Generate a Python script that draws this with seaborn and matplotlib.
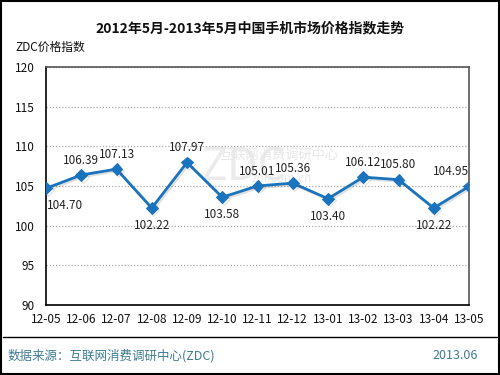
import numpy as np
import pandas as pd
import seaborn as sns
import matplotlib.pyplot as plt
import matplotlib.patheffects as pe
from matplotlib.lines import Line2D

# Datos
months = ['12-05', '12-06', '12-07', '12-08', '12-09', '12-10', '12-11',
          '12-12', '13-01', '13-02', '13-03', '13-04', '13-05']
index_values = [104.70, 106.39, 107.13, 102.22, 107.97, 103.58, 105.01,
                105.36, 103.40, 106.12, 105.80, 102.22, 104.95]
label_below = [True, False, False, True, False, True, False,
               False, True, False, False, True, False]

df = pd.DataFrame({'月份': months, '指数': index_values})
df['pos'] = range(len(df))

sns.set_style('white')
plt.rcParams['font.family'] = ['Noto Sans CJK SC', 'DejaVu Sans']

fig = plt.figure(figsize=(5, 3.75), dpi=100)
ax = fig.add_axes([0.092, 0.187, 0.846, 0.634])

# Marca de agua
ax.text(5.6, 107.3, 'ZDC', fontsize=32, color='#ebebeb', ha='center', va='center', zorder=0)
ax.text(6.6, 108.9, '互联网消费调研中心', fontsize=9.5, color='#e8e8e8', ha='center', va='center', zorder=0)
ax.text(6.7, 105.9, 'zol.com.cn', fontsize=8.5, color='#e8e8e8', ha='center', va='center', zorder=0)

line_color = '#1a73bd'
sns.lineplot(data=df, x='pos', y='指数', ax=ax, color=line_color, linewidth=2,
             marker='D', markersize=6, markeredgecolor=line_color, zorder=3,
             path_effects=[pe.SimpleLineShadow(offset=(1.2, -1.2), alpha=0.12), pe.Normal()])

# Etiquetas de valores
last = len(index_values) - 1
for i, (v, below) in enumerate(zip(index_values, label_below)):
    ha = 'left' if i == 0 else ('right' if i == last else 'center')
    dx = 1 if i == 0 else 0
    if below:
        ax.annotate(f'{v:.2f}', (i, v), xytext=(dx, -8), textcoords='offset points',
                    ha=ha, va='top', fontsize=8.5, color='#222222', zorder=4)
    else:
        ax.annotate(f'{v:.2f}', (i, v), xytext=(dx, 6), textcoords='offset points',
                    ha=ha, va='bottom', fontsize=8.5, color='#222222', zorder=4)

ax.set_xlim(0, len(months) - 1)
ax.set_ylim(90, 120)
ax.set_yticks(np.arange(90, 121, 5))
ax.set_xticks(df['pos'])
ax.set_xticklabels(months)
ax.set_xlabel('')
ax.set_ylabel('')
ax.yaxis.grid(True, linestyle=(0, (1, 1.5)), color='#aaaaaa', linewidth=0.9)
ax.xaxis.grid(False)
ax.tick_params(axis='x', direction='in', length=4, width=0.8, labelsize=8.5, pad=6, colors='#111111')
ax.tick_params(axis='y', direction='in', length=4, width=0.8, labelsize=8.5, pad=8, colors='#111111')
for s in ['left', 'bottom']:
    ax.spines[s].set_color('black')
    ax.spines[s].set_linewidth(1.2)
for s in ['top', 'right']:
    ax.spines[s].set_color('#555555')
    ax.spines[s].set_linewidth(1.2)

# Textos
fig.text(0.5, 0.925, '2012年5月-2013年5月中国手机市场价格指数走势', ha='center', va='center',
         fontsize=10, fontweight='bold', color='#111111')
fig.text(0.03, 0.875, 'ZDC价格指数', ha='left', va='center', fontsize=8.5, color='#111111')

footer_color = '#3f7c92'
fig.add_artist(Line2D([0.006, 0.994], [1 - 337 / 375] * 2, color='black', linewidth=1))
fig.text(0.016, 0.052, '数据来源：互联网消费调研中心(ZDC)', ha='left', va='center',
         fontsize=9, color=footer_color)
fig.text(0.955, 0.052, '2013.06', ha='right', va='center', fontsize=9, color=footer_color)

# Borde de la figura
fig.add_artist(plt.Rectangle((0.002, 0.003), 0.996, 0.994, transform=fig.transFigure,
                             fill=False, edgecolor='black', linewidth=1.5))

fig.savefig('out.png', dpi=100)
